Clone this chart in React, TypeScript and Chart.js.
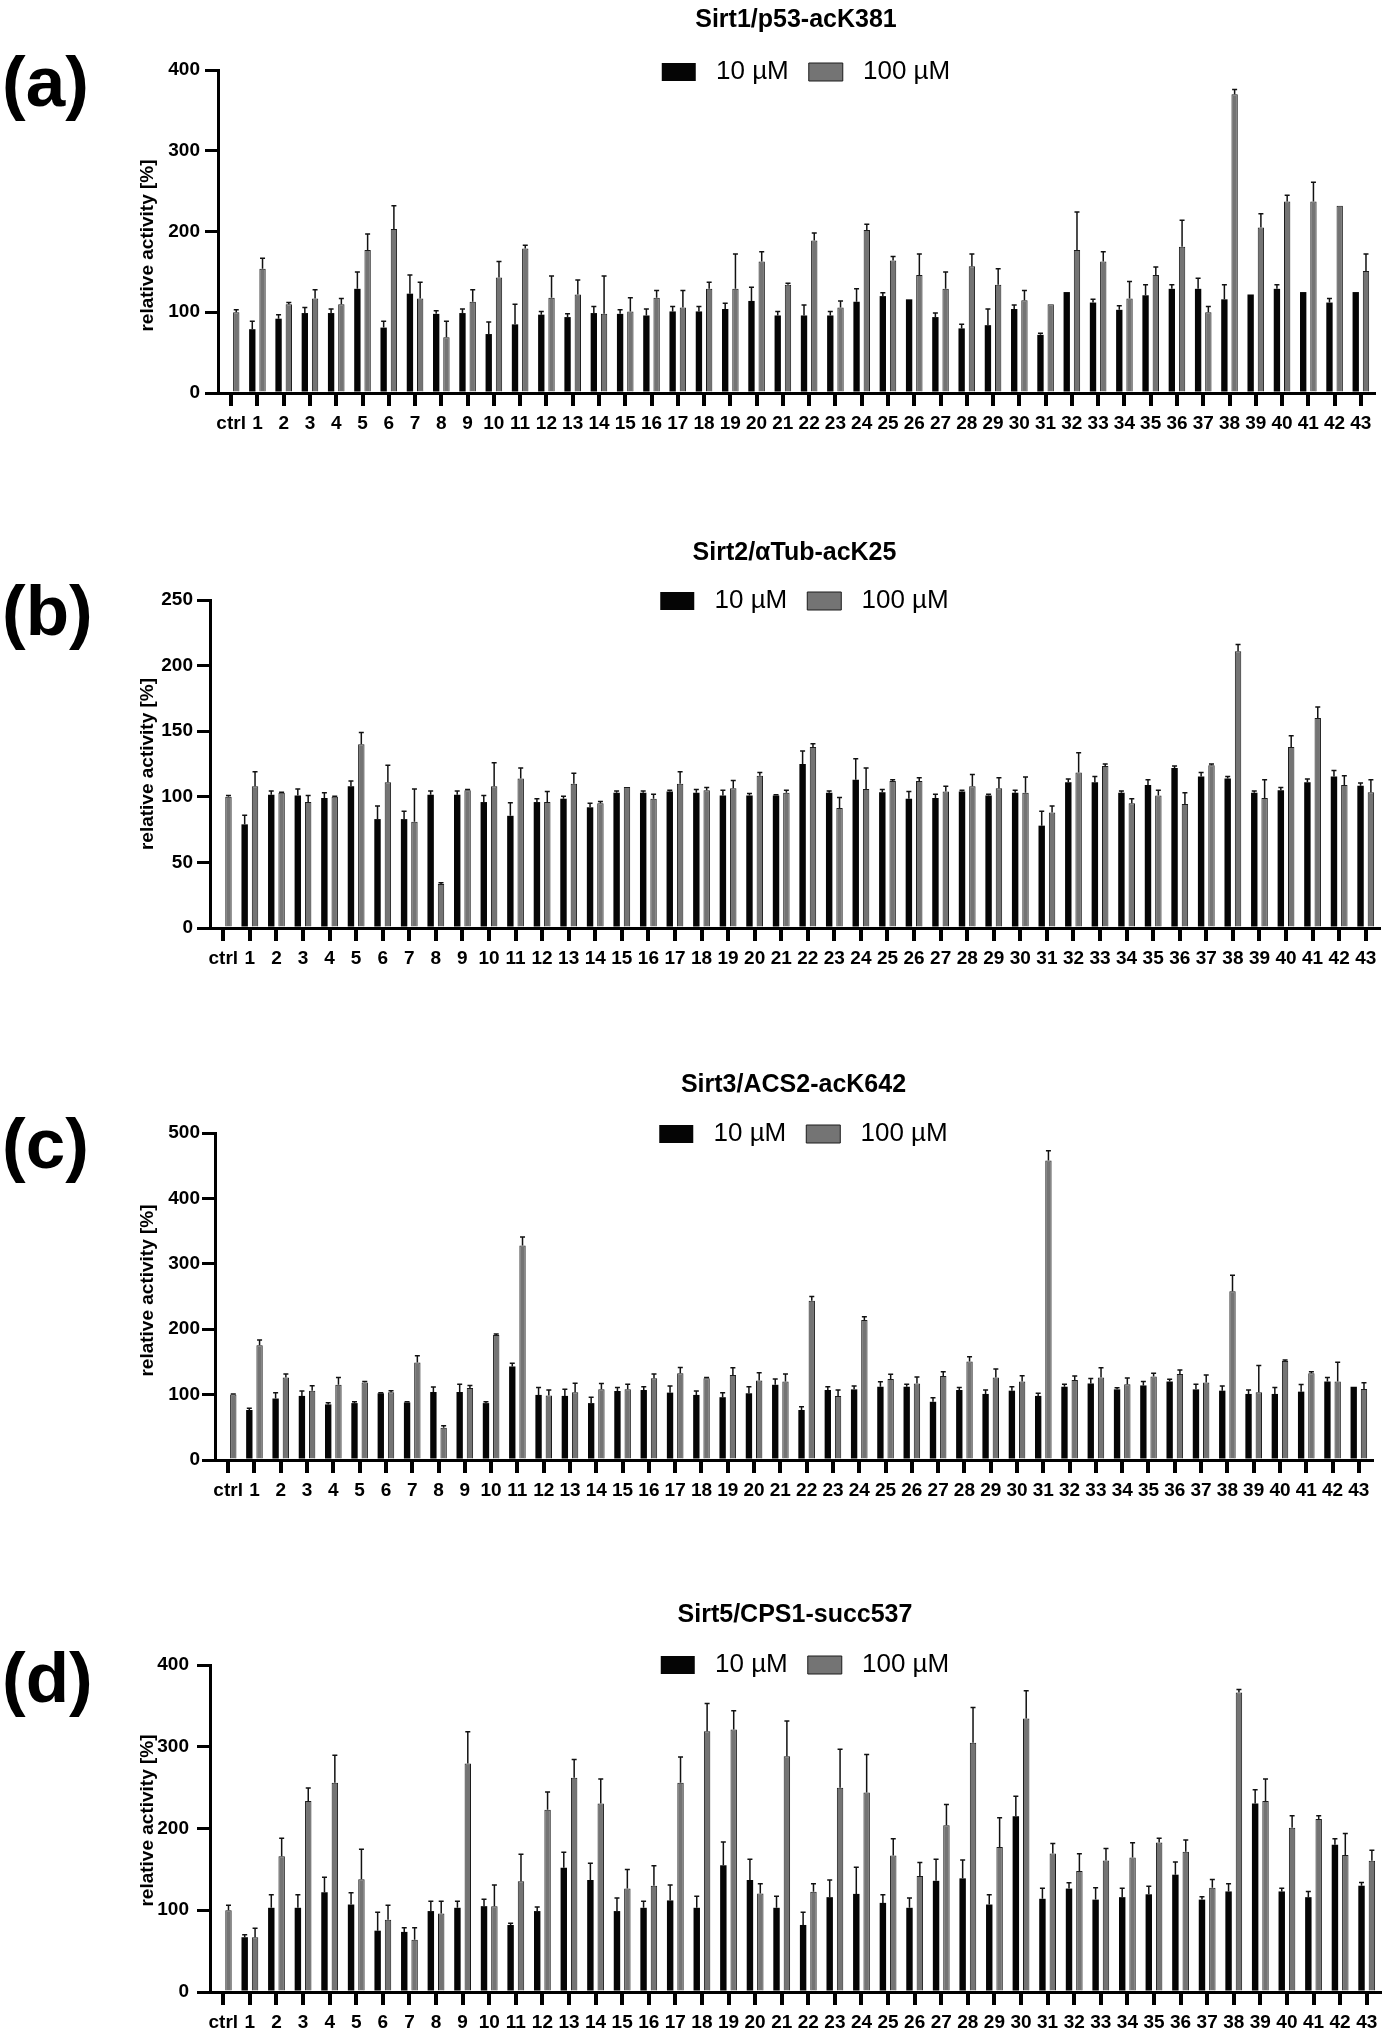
import React, { useEffect, useRef } from 'react';
import { Chart, registerables } from 'chart.js';

Chart.register(...registerables);

const FONT = '"Liberation Sans", Arial, Helvetica, sans-serif';
Chart.defaults.font.family = FONT;

const categories = ['ctrl', '1', '2', '3', '4', '5', '6', '7', '8', '9', '10', '11', '12', '13', '14', '15', '16', '17', '18', '19', '20', '21', '22', '23', '24', '25', '26', '27', '28', '29', '30', '31', '32', '33', '34', '35', '36', '37', '38', '39', '40', '41', '42', '43'];
const seriesLabels = ['10 µM', '100 µM'];
const yAxisTitle = 'relative activity [%]';

// Panel (a) Sirt1/p53-acK381
const a10 = [null, 79, 92, 99, 99, 129, 81, 123, 98, 99, 73, 85, 97, 94, 99, 98, 96, 101, 101, 104, 114, 96, 96, 96, 113, 120, 116, 94, 80, 84, 104, 72, 125, 112, 103, 121, 129, 129, 116, 122, 129, 125, 112, 125];
const a10err = [0, 10, 5, 7, 5, 21, 8, 23, 4, 5, 15, 25, 4, 4, 8, 5, 8, 6, 6, 7, 17, 5, 13, 5, 16, 4, 0, 5, 5, 20, 5, 2, 0, 4, 5, 13, 5, 13, 18, 0, 5, 0, 5, 0];
const a100 = [100, 154, 110, 117, 110, 177, 203, 117, 69, 113, 143, 179, 118, 122, 98, 101, 118, 106, 129, 129, 163, 134, 189, 106, 202, 164, 146, 129, 157, 134, 115, 110, 177, 163, 117, 146, 181, 100, 370, 205, 237, 237, 232, 151];
const a100err = [3, 13, 2, 11, 7, 20, 29, 20, 20, 15, 20, 4, 27, 18, 47, 17, 9, 21, 8, 43, 12, 2, 9, 8, 7, 5, 26, 21, 15, 20, 12, 0, 47, 12, 21, 10, 33, 7, 6, 17, 8, 24, 0, 21];

// Panel (b) Sirt2/αTub-acK25
const b10 = [null, 79, 101.5, 101, 99, 108, 83, 83, 101.5, 101.5, 96, 85.5, 96, 98.5, 92, 103, 103, 104, 103, 101, 101, 101, 125, 103, 113, 103.5, 98.5, 99, 104, 101, 103, 78, 111, 111, 103, 109, 122, 115.5, 114, 103, 105, 111, 115.5, 108.5];
const b10err = [0, 7, 3, 5, 4, 4, 10, 6, 3, 3, 5, 10, 2.5, 2, 3, 1.5, 1.5, 1, 2.5, 4, 1.5, 0.5, 10, 1.5, 16, 2, 5.5, 3, 1, 1, 2, 11, 2.5, 4.5, 1.5, 4, 1.5, 3, 1.5, 1.5, 2, 2.5, 4.5, 2];
const b100 = [100, 108, 103, 96, 100, 140, 111, 81, 33.5, 105, 108, 114, 96, 110, 95, 107.5, 98.5, 110, 105, 106.5, 116, 103, 138, 91.5, 106, 112, 112, 104, 108, 106.5, 103, 88, 118.5, 123.5, 95, 101, 94.5, 124, 211, 99, 138, 160, 109, 103.5];
const b100err = [1, 11, 0.5, 5, 0.5, 9, 13, 25, 1, 0.5, 18, 8, 8, 8, 1.5, 0, 3.5, 9, 2, 6, 2.5, 2, 2.5, 8, 16, 1, 2.5, 4, 9, 8, 12, 5, 15, 1.5, 3.5, 4, 8.5, 1, 5, 14, 8.5, 8.5, 7, 9.5];

// Panel (c) Sirt3/ACS2-acK642
const c10 = [null, 76.5, 94, 98, 85, 87, 102, 88, 104, 104, 87, 143, 99.5, 98, 87, 105.5, 107, 103, 99.5, 96, 102, 115, 76.5, 107, 108, 112, 112, 89, 107, 101, 106, 98, 112, 117, 108, 114, 120, 108, 106, 101, 101, 104.5, 120, 112];
const c10err = [0, 2.5, 9, 7.5, 2.5, 2, 1, 1, 7.5, 12, 2, 5, 11.5, 10, 9, 5.5, 5, 10, 6, 7, 10, 9, 5, 5, 5, 7.5, 4, 6, 4, 6, 6, 4, 4, 7.5, 2.5, 6, 3.5, 8, 7, 6, 10, 11, 6, 0];
const c100 = [100, 175.5, 126, 106, 115, 118.5, 103.5, 149, 49.5, 110, 191, 328, 98.5, 103.5, 108, 108, 125, 132.5, 125, 130, 121.5, 120, 243.5, 98, 214, 124, 117, 128.5, 150.5, 126, 120, 458, 122.5, 126, 116, 127.5, 131.5, 118.5, 258, 103.5, 151.5, 132.5, 120, 108.5];
const c100err = [1, 8, 5.5, 7.5, 11, 1.5, 2.5, 10.5, 3, 4, 1.5, 13, 8.5, 14, 9, 8, 6.5, 9, 1, 11, 12, 11.5, 6.5, 9, 5, 7, 10, 6.5, 7.5, 13, 9, 15, 6, 15, 9.5, 5, 6, 11.5, 24.5, 41, 1.5, 2.5, 29.5, 9.5];

// Panel (d) Sirt5/CPS1-succ537
const d10 = [null, 67, 103, 103, 122, 107, 75, 73.5, 99, 103, 105, 82, 99, 152, 137, 99, 103, 112, 103, 155, 137, 103, 82, 116, 120, 109, 103, 136, 139, 107, 215, 114, 126.5, 113, 116, 119.5, 143.5, 113, 123, 230.5, 123, 116, 180, 130];
const d10err = [0, 3, 16, 16, 18.5, 14.5, 22.5, 5, 12, 8, 8.5, 2, 5, 19, 20.5, 16, 8, 19, 14, 28.5, 25.5, 14, 15.5, 21, 32.5, 10, 12, 26.5, 22.5, 12, 24.5, 13, 7, 14.5, 11, 10, 15.5, 3.5, 9.5, 17, 4, 7, 7.5, 4];
const d100 = [100, 67, 166, 233.5, 256, 138, 88.5, 64, 96, 279.5, 105, 135.5, 223, 262, 230.5, 126.5, 130, 256, 319, 321, 120.5, 288.5, 122.5, 250, 244, 167, 142, 204, 305, 177.5, 334.5, 169.5, 148, 161, 164.5, 183, 171.5, 127.5, 366.5, 233.5, 201, 211.5, 167.5, 160.5];
const d100err = [6, 11, 22, 16, 33.5, 36.5, 17.5, 14.5, 15, 39, 26, 33, 21.5, 22.5, 30, 23.5, 24.5, 31.5, 34, 23, 12, 43, 10, 47, 46.5, 20.5, 16.5, 25.5, 43, 35.5, 34, 12, 21, 14.5, 18, 5, 14.5, 10, 3.5, 27, 14.5, 4, 26.5, 13];

const panelTitles = ['Sirt1/p53-acK381', 'Sirt2/αTub-acK25', 'Sirt3/ACS2-acK642', 'Sirt5/CPS1-succ537'];
const panelLetters = ['(a)', '(b)', '(c)', '(d)'];

type Panel = {
  title: string;
  letter: string;
  yMax: number;
  yStep: number;
  v10: (number | null)[];
  e10: number[];
  v100: number[];
  e100: number[];
  top: number;
  height: number;
  left: number;
  right: number;
  titleCenter: number;
  legendCenter: number;
  yTickPad: number;
  yTitleShift: number;
  letterY: number;
};

const panels: Panel[] = [
  { title: panelTitles[0], letter: panelLetters[0], yMax: 400, yStep: 100, v10: a10, e10: a10err, v100: a100, e100: a100err, top: 0, height: 438, left: 218, right: 1374, titleCenter: 20, legendCenter: 72, yTickPad: 5, yTitleShift: 14, letterY: 82 },
  { title: panelTitles[1], letter: panelLetters[1], yMax: 250, yStep: 50, v10: b10, e10: b10err, v100: b100, e100: b100err, top: 530, height: 443, left: 210, right: 1379, titleCenter: 23, legendCenter: 71, yTickPad: 4, yTitleShift: 0, letterY: 611 },
  { title: panelTitles[2], letter: panelLetters[2], yMax: 500, yStep: 100, v10: c10, e10: c10err, v100: c100, e100: c100err, top: 1063, height: 442, left: 215, right: 1372, titleCenter: 22, legendCenter: 71, yTickPad: 2, yTitleShift: -6, letterY: 1144 },
  { title: panelTitles[3], letter: panelLetters[3], yMax: 400, yStep: 100, v10: d10, e10: d10err, v100: d100, e100: d100err, top: 1595, height: 442, left: 210, right: 1380, titleCenter: 20, legendCenter: 70, yTickPad: 8, yTitleShift: -8, letterY: 1678 },
];

const errorBars = {
  id: 'errorBars',
  afterDatasetsDraw(chart: any) {
    const ctx = chart.ctx;
    const yScale = chart.scales.y;
    chart.data.datasets.forEach((ds: any, di: number) => {
      const meta = chart.getDatasetMeta(di);
      const errs: number[] = ds.errors;
      if (!errs) return;
      meta.data.forEach((bar: any, i: number) => {
        const v = ds.data[i];
        const e = errs[i];
        if (v == null || !e) return;
        const x = bar.x;
        const y0 = bar.y;
        const y1 = yScale.getPixelForValue(v + e);
        ctx.save();
        ctx.strokeStyle = '#111';
        ctx.lineWidth = 1.5;
        ctx.beginPath();
        ctx.moveTo(x, y0);
        ctx.lineTo(x, y1);
        ctx.moveTo(x - 2.5, y1);
        ctx.lineTo(x + 2.5, y1);
        ctx.stroke();
        ctx.restore();
      });
    });
  },
};

function BarPanel({ p }: { p: Panel }) {
  const ref = useRef<HTMLCanvasElement>(null);
  useEffect(() => {
    const canvas = ref.current;
    if (!canvas) return;
    const chartTop = 70;
    const titleSize = 25;
    const titleLH = titleSize * 1.2;
    const legendSize = 26;
    const legendPad = 20;
    const tPadTop = p.titleCenter - titleLH / 2;
    const lTop = p.legendCenter - legendPad - legendSize / 2;
    const tPadBottom = Math.max(0, lTop - tPadTop - titleLH);
    const legendH = chartTop - lTop;
    const leftPad = 137;
    const legendShiftX = 10;

    // Legend overlaps the top of the plot area: shrink its layout height,
    // then restore a taller box after layout so its own clip does not cut the text.
    const legendFit = {
      id: 'legendFit',
      beforeInit(chart: any) {
        const lg = chart.legend;
        if (!lg) return;
        const orig = lg.fit;
        lg.fit = function () {
          orig.call(this);
          this.height = legendH;
        };
      },
      afterLayout(chart: any) {
        const lg = chart.legend;
        if (!lg) return;
        lg.height = 80;
        lg.bottom = lg.top + 80;
        lg.left += legendShiftX;
        lg.right += legendShiftX;
      },
    };

    // Rotated y-axis title, drawn next to the y scale.
    const yTitle = {
      id: 'yTitle',
      afterDraw(chart: any) {
        const ctx = chart.ctx;
        const s = chart.scales.y;
        ctx.save();
        ctx.translate(s.left + 11, (s.top + s.bottom) / 2 + p.yTitleShift);
        ctx.rotate(-Math.PI / 2);
        ctx.font = `bold 19px ${FONT}`;
        ctx.fillStyle = '#000';
        ctx.textAlign = 'center';
        ctx.textBaseline = 'middle';
        ctx.fillText(yAxisTitle, 0, 0);
        ctx.restore();
      },
    };

    const defaultLabels = (Chart.defaults.plugins.legend.labels as any).generateLabels;

    const chart = new Chart(canvas, {
      type: 'bar',
      data: {
        labels: categories,
        datasets: [
          { label: seriesLabels[0], data: p.v10, errors: p.e10, backgroundColor: '#050505', borderColor: '#050505', borderWidth: 0 } as any,
          { label: seriesLabels[1], data: p.v100, errors: p.e100, backgroundColor: '#747474', borderColor: '#1c1c1c', borderWidth: 1 } as any,
        ],
      },
      options: {
        responsive: false,
        animation: false,
        devicePixelRatio: 1,
        events: [],
        layout: { padding: { left: leftPad, right: 1385 - p.right, top: 0, bottom: 0 } },
        datasets: { bar: { categoryPercentage: 0.78, barPercentage: 0.62 } },
        plugins: {
          title: {
            display: true,
            text: p.title,
            fullSize: false,
            color: '#000',
            font: { family: FONT, size: titleSize, weight: 'bold', lineHeight: 1.2 },
            padding: { top: tPadTop, bottom: tPadBottom },
          },
          legend: {
            display: true,
            position: 'top',
            fullSize: false,
            labels: {
              color: '#000',
              font: { family: FONT, size: legendSize },
              boxWidth: 34,
              boxHeight: 18,
              padding: legendPad,
              generateLabels: (c: any) => defaultLabels(c).map((l: any) => ({ ...l, text: ' ' + l.text })),
            },
          },
          tooltip: { enabled: false },
        },
        scales: {
          x: {
            type: 'category',
            offset: true,
            grid: { display: true, offset: false, drawOnChartArea: false, drawTicks: true, tickLength: 13, lineWidth: 4, color: '#000' },
            border: { display: true, color: '#000', width: 3 },
            ticks: { autoSkip: false, maxRotation: 0, minRotation: 0, padding: 6, color: '#000', font: { family: FONT, size: 19, weight: 'bold' } },
            afterFit: (s: any) => { s.height = 45; },
          },
          y: {
            min: 0,
            max: p.yMax,
            ticks: { stepSize: p.yStep, padding: p.yTickPad, color: '#000', font: { family: FONT, size: 19, weight: 'bold' } },
            grid: { drawOnChartArea: false, drawTicks: true, tickLength: 13, lineWidth: 3, color: '#000' },
            border: { display: true, color: '#000', width: 3 },
            title: { display: false },
            afterFit: (s: any) => { s.width = p.left - leftPad; },
          },
        },
      } as any,
      plugins: [legendFit, errorBars, yTitle],
    });
    return () => chart.destroy();
  }, [p]);
  return (
    <canvas
      ref={ref}
      width={1385}
      height={p.height}
      style={{ position: 'absolute', left: 0, top: p.top, width: 1385, height: p.height, display: 'block' }}
    />
  );
}

export default function App() {
  return (
    <div style={{ position: 'absolute', left: 0, top: 0, width: 1385, height: 2037, background: '#fff', overflow: 'hidden' }}>
      {panels.map((p) => (
        <BarPanel key={p.title} p={p} />
      ))}
      {panels.map((p) => (
        <div
          key={p.letter}
          style={{ position: 'absolute', left: 2, top: p.letterY - 38, fontFamily: FONT, fontWeight: 'bold', fontSize: 71, lineHeight: '76px', color: '#000' }}
        >
          {p.letter}
        </div>
      ))}
    </div>
  );
}
